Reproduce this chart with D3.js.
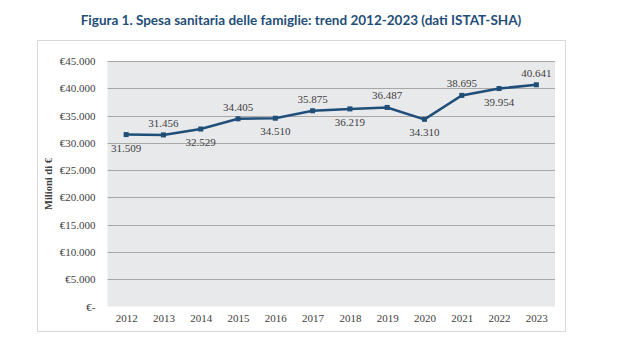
<!DOCTYPE html>
<html>
<head>
<meta charset="utf-8">
<script src="https://cdn.jsdelivr.net/npm/d3@7"></script>
<style>
  body { margin: 0; background: #fff; }
</style>
</head>
<body>
<div id="chart"></div>
<script>
// data
var years = ["2012", "2013", "2014", "2015", "2016", "2017", "2018", "2019", "2020", "2021", "2022", "2023"];
var spesa = [31509, 31456, 32529, 34405, 34510, 35875, 36219, 36487, 34310, 38695, 39954, 40641];
var labelAbove = [false, true, false, true, false, true, false, true, false, true, false, true];
var yTicks = [0, 5000, 10000, 15000, 20000, 25000, 30000, 35000, 40000, 45000];

var W = 623, H = 351;
var svg = d3.select("#chart").append("svg")
  .attr("width", W)
  .attr("height", H);

// title
svg.append("text")
  .attr("x", 301)
  .attr("y", 25)
  .attr("text-anchor", "middle")
  .style("font-family", "Lato, 'Open Sans', sans-serif")
  .style("font-weight", "bold")
  .style("font-size", "13.5px")
  .style("fill", "#1f4e79")
  .text("Figura 1. Spesa sanitaria delle famiglie: trend 2012-2023 (dati ISTAT-SHA)");

// outer frame
svg.append("rect")
  .attr("x", 37.5)
  .attr("y", 40.5)
  .attr("width", 528)
  .attr("height", 291)
  .attr("fill", "#fff")
  .attr("stroke", "#d9d9d9");

var plot = { left: 107.5, right: 555, top: 61, bottom: 306.5 };

var x = d3.scalePoint()
  .domain(years)
  .range([plot.left, plot.right])
  .padding(0.5);

var y = d3.scaleLinear()
  .domain([0, 45000])
  .range([plot.bottom, plot.top]);

// plot background
svg.append("rect")
  .attr("x", plot.left)
  .attr("y", plot.top)
  .attr("width", plot.right - plot.left)
  .attr("height", plot.bottom - plot.top)
  .attr("fill", "#e8e9eb");

// gridlines
svg.append("g")
  .selectAll("line")
  .data(yTicks.filter(function (d) { return d > 0; }))
  .enter()
  .append("line")
  .attr("x1", plot.left)
  .attr("x2", plot.right)
  .attr("y1", function (d) { return Math.round(y(d)) + 0.5; })
  .attr("y2", function (d) { return Math.round(y(d)) + 0.5; })
  .attr("stroke", "#a8a8a8")
  .attr("stroke-width", 1);

var numFmt = function (v) {
  return d3.format(",")(v).replace(/,/g, ".");
};

// y axis
var yAxis = svg.append("g")
  .attr("transform", "translate(" + plot.left + ",0)")
  .call(d3.axisLeft(y)
    .tickValues(yTicks)
    .tickSize(0)
    .tickPadding(12)
    .tickFormat(function (d) { return d === 0 ? "€-" : "€" + numFmt(d); }));
yAxis.select(".domain").remove();
yAxis.selectAll("text")
  .style("font-family", "'Liberation Serif', serif")
  .style("font-size", "11px")
  .style("fill", "#404040");

// x axis
var xAxis = svg.append("g")
  .attr("transform", "translate(0," + plot.bottom + ")")
  .call(d3.axisBottom(x).tickSize(0).tickPadding(8));
xAxis.select(".domain").remove();
xAxis.selectAll("text")
  .style("font-family", "'Liberation Serif', serif")
  .style("font-size", "11px")
  .style("fill", "#404040");

// y axis title
svg.append("text")
  .attr("transform", "translate(52,184) rotate(-90)")
  .attr("text-anchor", "middle")
  .style("font-family", "'Liberation Serif', serif")
  .style("font-weight", "bold")
  .style("font-size", "10.5px")
  .style("fill", "#404040")
  .text("Milioni di €");

// line
var line = d3.line()
  .x(function (d, i) { return x(years[i]); })
  .y(function (d) { return y(d); });

svg.append("path")
  .datum(spesa)
  .attr("d", line)
  .attr("fill", "none")
  .attr("stroke", "#1f4e79")
  .attr("stroke-width", 2.5);

// markers
svg.selectAll("markers")
  .data(spesa)
  .enter()
  .append("rect")
  .attr("x", function (d, i) { return x(years[i]) - 2.5; })
  .attr("y", function (d) { return y(d) - 2.5; })
  .attr("width", 5)
  .attr("height", 5)
  .attr("fill", "#1f4e79");

// data labels
svg.selectAll("labels")
  .data(spesa)
  .enter()
  .append("text")
  .attr("x", function (d, i) { return x(years[i]); })
  .attr("y", function (d, i) { return labelAbove[i] ? y(d) - 8 : y(d) + 17; })
  .attr("text-anchor", "middle")
  .style("font-family", "'Liberation Serif', serif")
  .style("font-size", "11px")
  .style("fill", "#404040")
  .text(function (d) { return numFmt(d); });
</script>
</body>
</html>
